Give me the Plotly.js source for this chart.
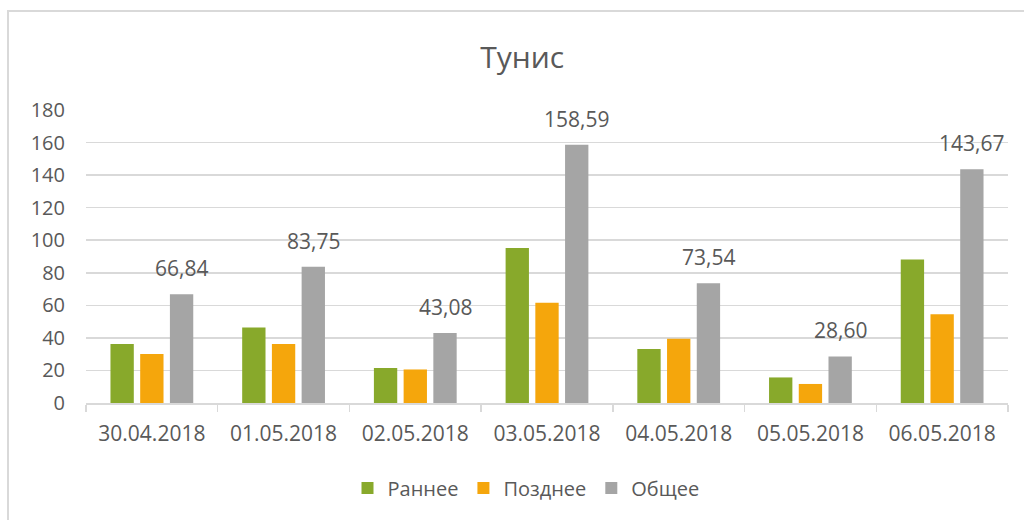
<!DOCTYPE html>
<html>
<head>
<meta charset="utf-8">
<script src="https://cdn.plot.ly/plotly-3.0.1.min.js"></script>
<style>
  html, body { margin: 0; padding: 0; background: #ffffff; }
  #chart { width: 1024px; height: 520px; position: absolute; left: 0; top: 0; }
  #frame { position: absolute; left: 7px; top: 10px; width: 1100px; height: 600px;
           border: 2px solid #d9d9d9; pointer-events: none; box-sizing: border-box; }
</style>
</head>
<body>
<div id="chart"></div>
<div id="frame"></div>
<script>
const categories = ["30.04.2018", "01.05.2018", "02.05.2018", "03.05.2018", "04.05.2018", "05.05.2018", "06.05.2018"];
const early = [36.2, 46.4, 21.5, 95.2, 33.2, 15.7, 88.2];
const late = [30.1, 36.2, 20.6, 61.6, 39.5, 11.7, 54.5];
const total = [66.84, 83.75, 43.08, 158.59, 73.54, 28.60, 143.67];
const seriesNames = ["Раннее", "Позднее", "Общее"];
const colors = ["#88a92b", "#f5a60c", "#a5a5a5"];

const textColor = "#595959";
const gridColor = "#d9d9d9";
const font = "Open Sans, Liberation Sans, sans-serif";

const W = 1024, H = 520;
const margin = {l: 86, r: 16, t: 110, b: 117, pad: 0};
const bargap = 0.323, bargroupgap = 0.215;
const catWidth = (W - margin.l - margin.r) / categories.length;
const slot = (1 - bargap) * catWidth / 3;

const traces = [early, late, total].map((vals, i) => ({
  type: "bar",
  name: seriesNames[i],
  x: categories,
  y: vals,
  marker: {color: colors[i]},
  hoverinfo: "none"
}));

const fmt = v => v.toFixed(2).replace(".", ",");
const annotations = categories.map((c, i) => ({
  x: c, y: total[i], xref: "x", yref: "y",
  xshift: slot, yshift: 10,
  yanchor: "bottom", xanchor: "center",
  text: fmt(total[i]), showarrow: false,
  font: {family: font, size: 21, color: textColor}
}));

const layout = {
  width: W, height: H,
  margin: margin,
  paper_bgcolor: "#ffffff",
  plot_bgcolor: "#ffffff",
  barmode: "group",
  bargap: bargap,
  bargroupgap: bargroupgap,
  font: {family: font, color: textColor, size: 20},
  title: {
    text: "Тунис",
    font: {family: font, size: 30, color: textColor},
    xref: "container", x: 0.51, xanchor: "center",
    yref: "container", y: 1 - 57 / H, yanchor: "middle"
  },
  xaxis: {
    type: "category",
    showline: true, linecolor: gridColor, linewidth: 1.5,
    ticks: "outside", tickson: "boundaries", ticklen: 7, tickcolor: gridColor, tickwidth: 1.5,
    tickfont: {family: font, size: 21, color: textColor},
    ticklabelstandoff: 11,
    showgrid: false, zeroline: false
  },
  yaxis: {
    range: [0, 180], dtick: 20, tick0: 0,
    showgrid: true, gridcolor: gridColor, gridwidth: 1.5,
    showline: false, zeroline: false, ticks: "",
    tickfont: {family: font, size: 20, color: textColor},
    ticklabelstandoff: 20
  },
  legend: {
    orientation: "h",
    xref: "paper", x: (526 - margin.l) / (W - margin.l - margin.r), xanchor: "center",
    yref: "container", y: 1 - 488 / H, yanchor: "middle",
    font: {family: font, size: 20, color: textColor},
    itemwidth: 30
  },
  annotations: annotations,
  showlegend: true
};

Plotly.newPlot("chart", traces, layout, {displayModeBar: false, staticPlot: true});
</script>
</body>
</html>
